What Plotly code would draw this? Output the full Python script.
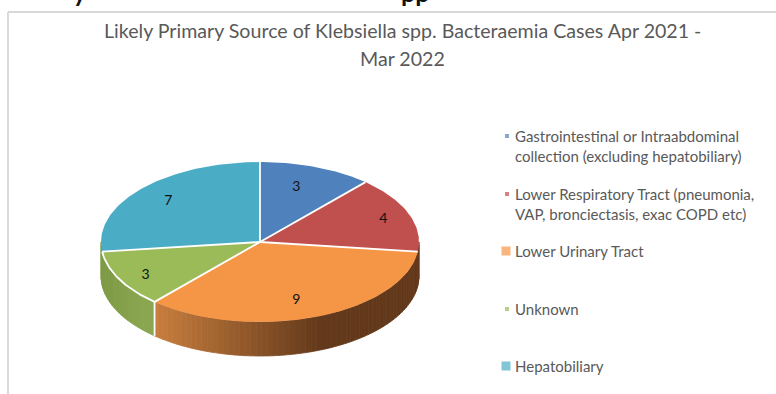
import math
import plotly.graph_objects as go

CATEGORIES = ["Gastrointestinal or Intraabdominal collection (excluding hepatobiliary)",
              "Lower Respiratory Tract (pneumonia, VAP, bronciectasis, exac COPD etc)",
              "Lower Urinary Tract", "Unknown", "Hepatobiliary"]
VALUES = [3, 4, 9, 3, 7]
COLORS = ["#4F81BD", "#C0504D", "#F59646", "#9BBB59", "#4BACC6"]
TITLE_LINES = ["Likely Primary Source of Klebsiella spp. Bacteraemia Cases Apr 2021 -", "Mar 2022"]
LEGEND_LINES = [["Gastrointestinal or Intraabdominal", "collection (excluding hepatobiliary)"],
                ["Lower Respiratory Tract (pneumonia,", "VAP, bronciectasis, exac COPD etc)"],
                ["Lower Urinary Tract"], ["Unknown"], ["Hepatobiliary"]]

W, H = 776, 394
CX, CY, RX, RY, DEPTH = 260, 242, 159, 80, 34
FONT = "Lato, 'Open Sans', sans-serif"
TEXT = "#595959"


def pt(deg, f=1.0, dy=0.0):
    a = math.radians(deg)
    return CX + RX * f * math.sin(a), CY - RY * f * math.cos(a) + dy


def mix(c1, c2, t):
    a = [int(c1[i:i + 2], 16) for i in (1, 3, 5)]
    b = [int(c2[i:i + 2], 16) for i in (1, 3, 5)]
    return "rgb(%d,%d,%d)" % tuple(round(p + (q - p) * t) for p, q in zip(a, b))


def arc(a0, a1, step=1.0):
    n = max(2, int(abs(a1 - a0) / step) + 1)
    return [a0 + (a1 - a0) * i / (n - 1) for i in range(n)]


fig = go.Figure()
total = sum(VALUES)
edges = [0.0]
for v in VALUES:
    edges.append(edges[-1] + 360.0 * v / total)


def add_poly(xs, ys, color, line=None, width=0):
    fig.add_trace(go.Scatter(x=xs, y=ys, mode="lines", fill="toself", fillcolor=color,
                             line=dict(color=line or color, width=width), hoverinfo="skip", showlegend=False))


def add_line(xs, ys, width=1.8):
    fig.add_trace(go.Scatter(x=xs, y=ys, mode="lines", line=dict(color="white", width=width),
                             hoverinfo="skip", showlegend=False))


# Front wall, drawn as narrow strips to carry the shading
for i, (a0, a1) in enumerate(zip(edges[:-1], edges[1:])):
    lo, hi = max(a0, 90.0), min(a1, 270.0)
    if hi <= lo:
        continue
    angles = arc(lo, hi, 2.0)
    for p, q in zip(angles[:-1], angles[1:]):
        x0, y0 = pt(p)
        x1, y1 = pt(q)
        xm = (x0 + x1) / 2
        if i == 2:
            c = mix("#C87E3E", "#63391B", min(1.0, max(0.0, (xm - 155) / 165)))
        elif i == 3:
            c = mix("#7D9A45", "#8AA64F", min(1.0, max(0.0, (xm - 102) / 40)))
        elif i == 1:
            c = "#63391B"
        else:
            c = "#7D9A45"
        add_poly([x0, x1, x1, x0, x0], [y0, y1, y1 + DEPTH, y0 + DEPTH, y0], c, width=0.8)

# Top face
for i, (a0, a1) in enumerate(zip(edges[:-1], edges[1:])):
    rim = [pt(a) for a in arc(a0, a1)]
    add_poly([CX] + [p[0] for p in rim] + [CX], [CY] + [p[1] for p in rim] + [CY], COLORS[i])

# Separators
for a in edges[:-1]:
    x, y = pt(a)
    add_line([CX, x], [CY, y])
green = [pt(a) for a in arc(edges[3], edges[4])]
add_line([p[0] for p in green], [p[1] for p in green])
xs, ys = pt(edges[3])
add_line([xs, xs], [ys, ys + DEPTH])

# Value labels
lx, ly = [], []
for a0, a1 in zip(edges[:-1], edges[1:]):
    m = math.radians((a0 + a1) / 2)
    s, c = math.sin(m), math.cos(m)
    lx.append(CX + RX * s * (0.53 + 0.32 * abs(s)))
    ly.append(CY + 2 - RY * c * (0.93 - 0.18 * abs(c)))
fig.add_trace(go.Scatter(x=lx, y=ly, mode="text", text=[str(v) for v in VALUES],
                         textfont=dict(family=FONT, size=14, color="#111111"),
                         textposition="middle center", hoverinfo="skip", showlegend=False))

# Legend keys
KEY_Y = [136, 194, 251, 309, 366]
KEY_SIZE = [4, 4, 9, 4, 9]
fig.add_trace(go.Scatter(x=[507 if s < 5 else 506 for s in KEY_SIZE], y=KEY_Y, mode="markers",
                         marker=dict(symbol="square", size=KEY_SIZE, color=COLORS, line=dict(width=0)),
                         hoverinfo="skip", showlegend=False))

notes = []
for line, y in zip(TITLE_LINES, [30, 58]):
    notes.append(dict(x=402, y=y, text=line, font=dict(family=FONT, size=19.6, color=TEXT)))
for lines, ky in zip(LEGEND_LINES, KEY_Y):
    for j, line in enumerate(lines):
        notes.append(dict(x=513, y=ky + j * 20, text=line, xanchor="left",
                          font=dict(family=FONT, size=15, color=TEXT)))
# Page heading above the chart, cut off by the top edge
for x, frag in [(80, "y"), (415, "pp")]:
    notes.append(dict(x=x, y=9, text="<b>%s</b>" % frag, yanchor="bottom",
                      font=dict(family=FONT, size=25, color="#111111")))
for n in notes:
    n.update(xref="x", yref="y", showarrow=False)
    n.setdefault("xanchor", "center")
    n.setdefault("yanchor", "middle")

fig.update_layout(
    width=W, height=H, margin=dict(l=0, r=0, t=0, b=0), autosize=False,
    paper_bgcolor="white", plot_bgcolor="white", annotations=notes,
    xaxis=dict(range=[0, W], visible=False, fixedrange=True),
    yaxis=dict(range=[H, 0], visible=False, fixedrange=True),
    shapes=[dict(type="line", xref="x", yref="y", x0=8, x1=W, y0=12, y1=12, line=dict(color="#D9D9D9", width=2), layer="below"),
            dict(type="line", xref="x", yref="y", x0=8, x1=8, y0=12, y1=H, line=dict(color="#D9D9D9", width=2), layer="below")],
)
fig.write_html("out.html", config={"displayModeBar": False},
               post_script="document.body.style.margin='0';document.body.style.overflow='hidden';")
